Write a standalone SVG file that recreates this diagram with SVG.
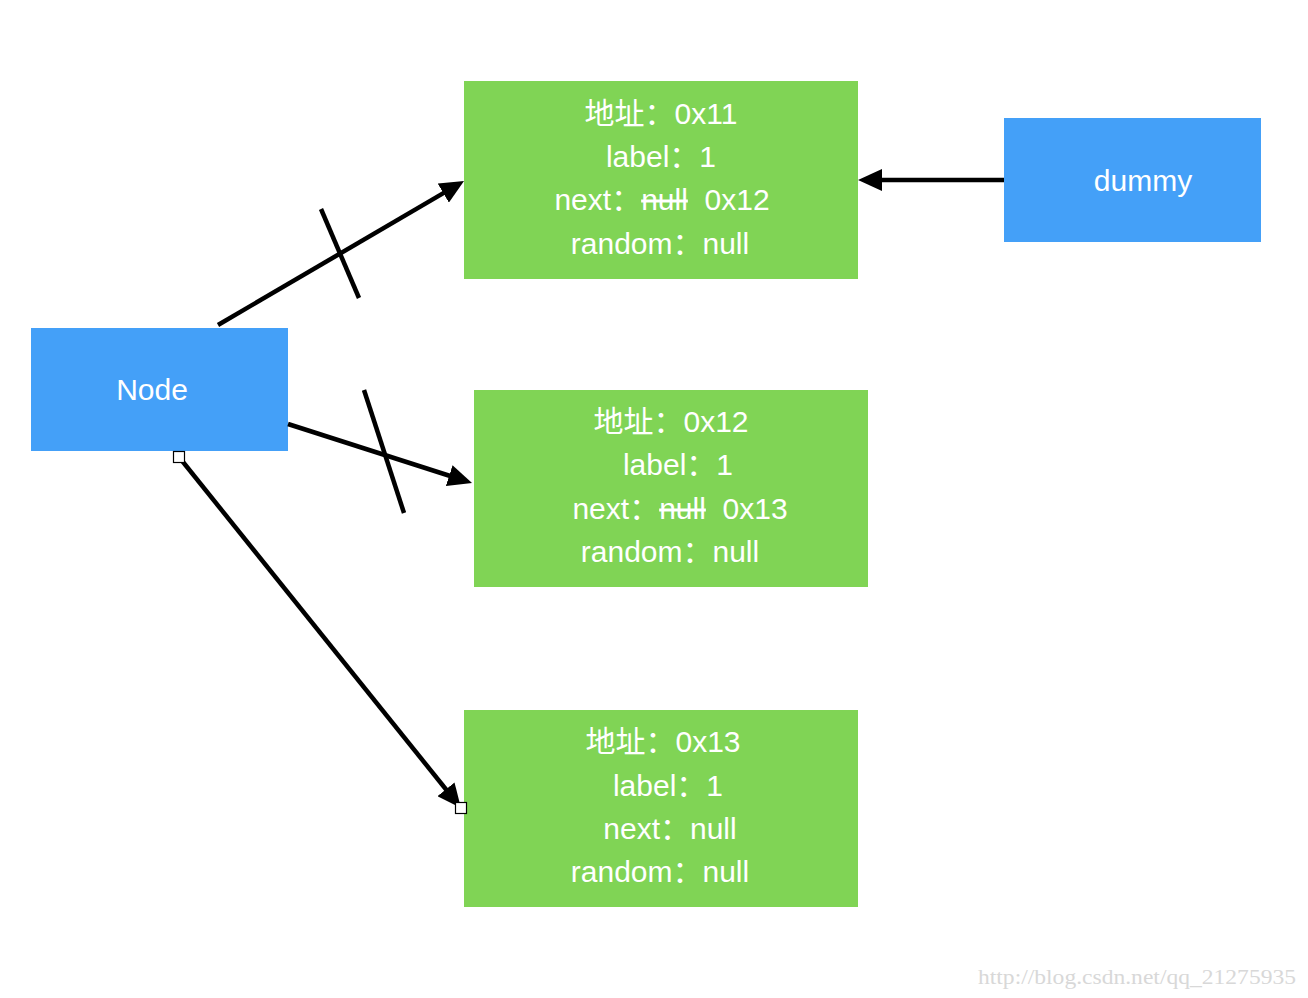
<svg xmlns="http://www.w3.org/2000/svg" width="1308" height="998" viewBox="0 0 1308 998">
<defs>
<style>
.green{fill:#80D455;}
.blue{fill:#44A0F8;}
.t{fill:#fff;font-family:"Liberation Sans","Noto Sans CJK SC",sans-serif;font-size:30px;text-anchor:middle;}
.c{stroke:#000;stroke-width:4.5;fill:none;}
.h{fill:#fff;stroke:#000;stroke-width:1.2;}
.wm{fill:#d8d8d8;font-family:"Liberation Serif",serif;font-size:20px;}
</style>
<marker id="arr" markerUnits="userSpaceOnUse" markerWidth="24" markerHeight="22" refX="6" refY="11" orient="auto">
<path d="M0,0 L24,11 L0,22 z" fill="#000"/>
</marker>
</defs>
<rect width="1308" height="998" fill="#fff"/>
<g id="node-0x11">
<rect class="green" x="464" y="81" width="394" height="198"/>
<text class="t" x="661" y="124">地址：0x11</text>
<text class="t" x="661" y="167">label：1</text>
<text class="t" x="662" y="210">next：<tspan text-decoration="line-through">null</tspan>&#160; 0x12</text>
<text class="t" x="660" y="254">random：null</text>
</g>
<g id="node-0x12">
<rect class="green" x="474" y="390" width="394" height="197"/>
<text class="t" x="671" y="432">地址：0x12</text>
<text class="t" x="678" y="475">label：1</text>
<text class="t" x="680" y="519">next：<tspan text-decoration="line-through">null</tspan>&#160; 0x13</text>
<text class="t" x="670" y="562">random：null</text>
</g>
<g id="node-0x13">
<rect class="green" x="464" y="710" width="394" height="197"/>
<text class="t" x="663" y="752">地址：0x13</text>
<text class="t" x="668" y="796">label：1</text>
<text class="t" x="670" y="839">next：null</text>
<text class="t" x="660" y="882">random：null</text>
</g>
<g id="node-Node">
<rect class="blue" x="31" y="328" width="257" height="123"/>
<text class="t" x="152" y="400">Node</text>
</g>
<g id="node-dummy">
<rect class="blue" x="1004" y="118" width="257" height="124"/>
<text class="t" x="1143" y="191">dummy</text>
</g>
<g id="connectors">
<line class="c" x1="218" y1="325" x2="448.5" y2="190.1" marker-end="url(#arr)"/>
<line class="c" x1="321" y1="209" x2="359" y2="298"/>
<line class="c" x1="288" y1="424" x2="454.9" y2="477.5" marker-end="url(#arr)"/>
<line class="c" x1="364" y1="390" x2="404" y2="513"/>
<line class="c" x1="179" y1="457" x2="449.7" y2="794" marker-end="url(#arr)"/>
<line class="c" x1="1004" y1="180" x2="876" y2="180" marker-end="url(#arr)"/>
<rect class="h" x="173.5" y="451.5" width="11" height="11"/>
<rect class="h" x="455.5" y="802.5" width="11" height="11"/>
</g>
<text class="wm" x="978" y="984" textLength="318" lengthAdjust="spacingAndGlyphs">http://blog.csdn.net/qq_21275935</text>
</svg>
